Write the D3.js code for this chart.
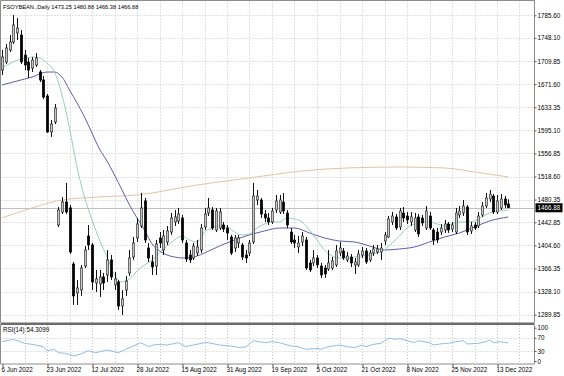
<!DOCTYPE html>
<html>
<head>
<meta charset="utf-8">
<script src="https://cdn.jsdelivr.net/npm/d3@7"></script>
<style>
html, body { margin: 0; padding: 0; background: #fff; }
svg { display: block; }
text { font-family: "Liberation Sans", Arial, sans-serif; font-size: 6.3px; fill: #000; }
</style>
</head>
<body>
<svg id="chart" width="564" height="376"></svg>
<script>
'use strict'

// ---- data ----
const symbol = 'FSOYBEAN.,Daily'
const lastOhlc = [1473.25, 1480.88, 1466.38, 1466.88]
const rsiLabel = 'RSI(14) 54.3099'

const labelBars = [0, 12, 24, 36, 48, 60, 72, 84, 96, 108, 120, 132]
const labelDates = ['6 Jun 2022', '23 Jun 2022', '12 Jul 2022', '28 Jul 2022', '15 Aug 2022', '31 Aug 2022',
  '19 Sep 2022', '5 Oct 2022', '21 Oct 2022', '8 Nov 2022', '25 Nov 2022', '13 Dec 2022']

const priceTicks = [1785.60, 1748.10, 1709.85, 1671.60, 1633.35, 1595.10, 1556.85, 1518.60,
  1480.35, 1442.85, 1404.60, 1366.35, 1328.10, 1289.85]
const rsiTicks = [100, 70, 30, 0]

const opens = [1695.0, 1708.3, 1728.2, 1741.4, 1756.3, 1753.0, 1719.9, 1708.3, 1698.4, 1703.3,
  1691.7, 1678.5, 1652.0, 1592.4, 1609.0, 1438.4, 1459.9, 1476.5, 1466.6, 1373.8,
  1325.9, 1330.8, 1370.5, 1420.2, 1405.3, 1342.4, 1340.7, 1352.3, 1355.6, 1380.5,
  1339.1, 1344.0, 1304.3, 1330.8, 1358.9, 1385.4, 1416.9, 1436.8, 1478.2, 1400.3,
  1377.2, 1370.5, 1416.9, 1397.0, 1410.3, 1426.8, 1443.4, 1445.0, 1450.0, 1408.6,
  1388.7, 1383.8, 1392.1, 1397.0, 1435.1, 1458.3, 1463.2, 1430.1, 1433.4, 1438.4,
  1433.4, 1418.5, 1400.3, 1408.6, 1405.3, 1388.7, 1392.1, 1410.3, 1479.8, 1479.8,
  1456.6, 1450.0, 1443.4, 1463.2, 1459.9, 1476.5, 1458.3, 1426.8, 1413.6, 1402.0,
  1410.3, 1413.6, 1375.5, 1375.5, 1383.8, 1370.5, 1367.2, 1365.6, 1367.2, 1372.2,
  1392.1, 1395.4, 1380.5, 1385.4, 1372.2, 1372.2, 1388.7, 1395.4, 1380.5, 1392.1,
  1393.7, 1393.7, 1411.9, 1418.5, 1443.4, 1451.7, 1435.1, 1458.3, 1453.3, 1443.4,
  1430.1, 1451.7, 1450.0, 1433.4, 1453.3, 1430.1, 1426.8, 1426.8, 1430.1, 1440.1,
  1431.8, 1426.8, 1455.0, 1458.3, 1468.2, 1428.5, 1438.4, 1436.8, 1455.0, 1469.9,
  1481.5, 1486.4, 1459.9, 1466.6, 1481.5, 1473.25]

const highs = [1728.2, 1738.1, 1753.0, 1786.1, 1781.1, 1761.2, 1728.2, 1714.9, 1716.6, 1723.2,
  1695.0, 1685.1, 1655.3, 1612.3, 1638.7, 1468.2, 1484.8, 1508.0, 1471.5, 1377.2,
  1347.4, 1372.2, 1403.6, 1438.4, 1408.6, 1363.9, 1363.9, 1358.9, 1397.0, 1388.7,
  1360.6, 1347.4, 1330.8, 1354.0, 1397.0, 1418.5, 1450.0, 1491.4, 1483.1, 1408.6,
  1388.7, 1413.6, 1426.8, 1430.1, 1436.8, 1458.3, 1463.2, 1466.6, 1455.0, 1413.6,
  1397.0, 1408.6, 1413.6, 1440.1, 1466.6, 1483.1, 1468.2, 1466.6, 1466.6, 1443.4,
  1438.4, 1421.9, 1421.9, 1421.9, 1408.6, 1397.0, 1413.6, 1508.0, 1496.4, 1483.1,
  1463.2, 1458.3, 1466.6, 1488.1, 1488.1, 1491.4, 1463.2, 1433.4, 1421.9, 1420.2,
  1426.8, 1418.5, 1380.5, 1397.0, 1388.7, 1375.5, 1372.2, 1397.0, 1385.4, 1405.3,
  1410.3, 1400.3, 1393.7, 1390.4, 1383.8, 1397.0, 1402.0, 1400.3, 1397.0, 1405.3,
  1405.3, 1408.6, 1426.8, 1453.3, 1459.9, 1456.6, 1466.6, 1468.2, 1459.9, 1459.9,
  1458.3, 1456.6, 1455.0, 1469.9, 1459.9, 1433.4, 1433.4, 1440.1, 1446.7, 1443.4,
  1443.4, 1466.6, 1469.9, 1479.8, 1471.5, 1443.4, 1443.4, 1459.9, 1476.5, 1491.4,
  1496.4, 1489.7, 1488.1, 1489.7, 1486.4, 1480.88]

const lows = [1686.8, 1705.0, 1724.8, 1738.1, 1744.7, 1705.0, 1695.0, 1681.8, 1691.7, 1700.0,
  1675.2, 1647.0, 1590.7, 1584.1, 1605.6, 1435.1, 1456.6, 1456.6, 1390.4, 1306.0,
  1306.0, 1320.9, 1367.2, 1397.0, 1330.8, 1327.5, 1319.2, 1330.8, 1344.0, 1347.4,
  1330.8, 1297.7, 1289.4, 1320.9, 1354.0, 1380.5, 1410.3, 1433.4, 1408.6, 1377.2,
  1355.6, 1355.6, 1400.3, 1388.7, 1405.3, 1421.9, 1436.8, 1440.1, 1408.6, 1377.2,
  1375.5, 1380.5, 1387.1, 1392.1, 1430.1, 1453.3, 1430.1, 1426.8, 1430.1, 1426.8,
  1413.6, 1388.7, 1393.7, 1400.3, 1380.5, 1375.5, 1387.1, 1407.0, 1471.5, 1450.0,
  1443.4, 1438.4, 1440.1, 1458.3, 1456.6, 1456.6, 1433.4, 1407.0, 1400.3, 1392.1,
  1403.6, 1363.9, 1360.6, 1370.5, 1367.2, 1350.7, 1350.7, 1362.3, 1363.9, 1368.9,
  1387.1, 1380.5, 1377.2, 1368.9, 1357.3, 1368.9, 1383.8, 1373.8, 1377.2, 1387.1,
  1390.4, 1380.5, 1405.3, 1416.9, 1438.4, 1430.1, 1430.1, 1443.4, 1440.1, 1436.8,
  1426.8, 1418.5, 1436.8, 1430.1, 1430.1, 1405.3, 1408.6, 1421.9, 1425.2, 1425.2,
  1426.8, 1423.5, 1450.0, 1453.3, 1421.9, 1423.5, 1430.1, 1433.4, 1451.7, 1466.6,
  1476.5, 1456.6, 1456.6, 1463.2, 1466.6, 1466.38]

const closes = [1716.6, 1731.5, 1741.4, 1769.5, 1764.6, 1708.3, 1703.3, 1695.0, 1711.6, 1714.9,
  1678.5, 1650.3, 1592.4, 1605.6, 1632.1, 1463.2, 1476.5, 1459.9, 1393.7, 1320.9,
  1334.1, 1367.2, 1397.0, 1405.3, 1344.0, 1349.0, 1352.3, 1342.4, 1380.5, 1352.3,
  1349.0, 1304.3, 1315.9, 1345.7, 1383.8, 1408.6, 1440.1, 1466.6, 1413.6, 1383.8,
  1368.9, 1407.0, 1408.6, 1420.2, 1428.5, 1450.0, 1451.7, 1456.6, 1413.6, 1382.1,
  1380.5, 1403.6, 1402.0, 1433.4, 1456.6, 1466.6, 1433.4, 1461.6, 1459.9, 1431.8,
  1425.2, 1392.1, 1416.9, 1416.9, 1385.4, 1383.8, 1408.6, 1486.4, 1486.4, 1456.6,
  1450.0, 1443.4, 1461.6, 1478.2, 1479.8, 1461.6, 1438.4, 1410.3, 1408.6, 1408.6,
  1420.2, 1367.2, 1363.9, 1383.8, 1372.2, 1355.6, 1357.3, 1375.5, 1378.8, 1395.4,
  1400.3, 1383.8, 1387.1, 1375.5, 1377.2, 1390.4, 1395.4, 1377.2, 1392.1, 1398.7,
  1398.7, 1400.3, 1421.9, 1448.3, 1453.3, 1433.4, 1461.6, 1450.0, 1446.7, 1451.7,
  1450.0, 1423.5, 1441.7, 1461.6, 1433.4, 1413.6, 1413.6, 1433.4, 1440.1, 1430.1,
  1438.4, 1458.3, 1461.6, 1469.9, 1426.8, 1436.8, 1433.4, 1453.3, 1469.9, 1483.1,
  1489.7, 1459.9, 1478.2, 1481.5, 1471.5, 1466.88]

// moving averages, sampled at these bar indices
const fastMaBars = [0, 3, 6, 9, 12, 14, 16, 18, 20, 22, 24, 26, 28, 30, 32, 34, 36, 38, 40, 42,
  44, 46, 48, 50, 52, 54, 56, 58, 60, 62, 64, 66, 68, 70, 72, 74, 76, 78, 80, 82,
  84, 86, 88, 90, 92, 94, 96, 98, 100, 102, 104, 106, 108, 110, 112, 114, 116, 118, 120, 122,
  124, 126, 128, 130, 132, 135]
const fastMaValues = [1698.4, 1708.3, 1714.9, 1716.6, 1706.6, 1691.7, 1653.6, 1599.0, 1534.4, 1484.8,
  1446.7, 1413.6, 1385.4, 1355.6, 1344.0, 1349.0, 1362.3, 1372.2, 1380.5, 1392.1,
  1403.6, 1413.6, 1420.2, 1413.6, 1410.3, 1426.8, 1433.4, 1436.8, 1435.1, 1426.8,
  1421.9, 1423.5, 1433.4, 1440.1, 1443.4, 1443.4, 1450.0, 1448.3, 1443.4, 1430.1,
  1413.6, 1397.0, 1387.1, 1383.8, 1383.8, 1385.4, 1387.1, 1388.7, 1392.1, 1397.0,
  1408.6, 1420.2, 1433.4, 1440.1, 1443.4, 1443.4, 1440.1, 1436.8, 1440.1, 1443.4,
  1443.4, 1445.0, 1451.7, 1458.3, 1461.6, 1463.0]

const midMaBars = [0, 4, 8, 12, 14, 16, 18, 20, 22, 24, 26, 28, 30, 32, 34, 36, 38, 40, 42, 44,
  46, 48, 50, 52, 54, 58, 62, 66, 70, 74, 78, 82, 86, 90, 94, 98, 102, 106, 110, 114,
  118, 122, 126, 130, 135]
const midMaValues = [1670.2, 1676.8, 1683.4, 1691.7, 1691.7, 1683.4, 1661.9, 1640.4, 1617.2, 1590.7,
  1564.2, 1544.4, 1521.2, 1496.4, 1471.5, 1450.0, 1430.1, 1407.0, 1395.4, 1388.7,
  1385.4, 1383.8, 1383.8, 1387.1, 1392.1, 1403.6, 1413.6, 1421.9, 1428.5, 1433.4,
  1433.4, 1425.2, 1416.9, 1411.9, 1410.3, 1403.6, 1397.0, 1398.7, 1402.0, 1410.3,
  1418.5, 1425.2, 1435.1, 1445.0, 1451.7]

const slowMaBars = [0, 8, 16, 26, 36, 52, 66, 80, 92, 106, 118, 126, 135]
const slowMaValues = [1450.0, 1466.6, 1479.8, 1484.8, 1488.1, 1504.6, 1516.3, 1527.8, 1532.8, 1534.4,
  1532.8, 1526.2, 1517.9]

const rsiBars = [0, 3, 6, 8, 11, 12, 14, 15, 17, 19, 21, 23, 25, 28, 30, 31, 33, 37, 39, 41,
  44, 47, 49, 51, 54, 55, 58, 61, 63, 65, 67, 70, 72, 74, 77, 79, 81, 84, 85, 87,
  90, 92, 94, 96, 97, 99, 101, 103, 105, 106, 108, 110, 111, 114, 115, 118, 119, 121, 123, 124,
  127, 129, 130, 131, 133, 134, 135]
const rsiValues = [58, 65, 53, 50, 43, 31, 35, 25, 23, 15, 21, 31, 25, 33, 28, 25, 35, 55, 43, 50,
  48, 55, 43, 48, 55, 55, 48, 45, 41, 42, 61, 55, 58, 55, 45, 43, 35, 38, 35, 43,
  48, 43, 40, 48, 43, 50, 53, 68, 65, 68, 61, 55, 61, 55, 48, 53, 53, 58, 61, 51,
  53, 58, 63, 55, 58, 56, 54.3]

// ---- layout ----
const plotLeft = 0.5, plotRight = 534.5
const mainTop = 0.5, mainBottom = 322.5
const rsiTop = 325, rsiBottom = 364

const svg = d3.select('#chart')

const x = d3.scaleLinear().domain([0, 135]).range([2, 508.25])
const y = d3.scaleLinear().domain([1289.85, 1785.60]).range([314.7, 15.3])
const yr = d3.scaleLinear().domain([0, 100]).range([361, 327.7])

svg.append('rect').attr('width', 564).attr('height', 376).attr('fill', '#fff')

const defs = svg.append('defs')
defs.append('clipPath').attr('id', 'clipMain')
  .append('rect').attr('x', plotLeft).attr('y', mainTop)
  .attr('width', plotRight - plotLeft).attr('height', mainBottom - mainTop)
defs.append('clipPath').attr('id', 'clipRsi')
  .append('rect').attr('x', plotLeft).attr('y', rsiTop)
  .attr('width', plotRight - plotLeft).attr('height', rsiBottom - rsiTop)

// grid
const gridColor = '#c4c4c4'
const gridBars = d3.range(6, 139, 6)
const grid = svg.append('g').attr('stroke', gridColor).attr('stroke-width', 1).attr('stroke-dasharray', '1,2')

grid.selectAll('.vmain').data(gridBars).join('line')
  .attr('x1', d => Math.round(x(d)) + 0.5).attr('x2', d => Math.round(x(d)) + 0.5)
  .attr('y1', mainTop).attr('y2', mainBottom)
grid.selectAll('.vrsi').data(gridBars).join('line')
  .attr('x1', d => Math.round(x(d)) + 0.5).attr('x2', d => Math.round(x(d)) + 0.5)
  .attr('y1', rsiTop).attr('y2', rsiBottom)
grid.selectAll('.hmain').data(priceTicks).join('line')
  .attr('x1', plotLeft).attr('x2', plotRight)
  .attr('y1', d => Math.round(y(d)) + 0.5).attr('y2', d => Math.round(y(d)) + 0.5)
grid.selectAll('.hrsi').data([70, 30]).join('line')
  .attr('x1', plotLeft).attr('x2', plotRight)
  .attr('y1', d => Math.round(yr(d)) + 0.5).attr('y2', d => Math.round(yr(d)) + 0.5)

// main panel content
const main = svg.append('g').attr('clip-path', 'url(#clipMain)')

// bid line
main.append('line')
  .attr('x1', plotLeft).attr('x2', plotRight)
  .attr('y1', Math.round(y(lastOhlc[3])) + 0.5).attr('y2', Math.round(y(lastOhlc[3])) + 0.5)
  .attr('stroke', '#c0c0c0')

const maLine = (bars, values) => d3.line()
  .x((d, k) => x(bars[k]))
  .y(d => y(d))
  .curve(d3.curveMonotoneX)(values)

main.append('path').attr('d', maLine(slowMaBars, slowMaValues))
  .attr('fill', 'none').attr('stroke', '#e4c2a2').attr('stroke-width', 1)
main.append('path').attr('d', maLine(midMaBars, midMaValues))
  .attr('fill', 'none').attr('stroke', '#5e5ea8').attr('stroke-width', 1)
main.append('path').attr('d', maLine(fastMaBars, fastMaValues))
  .attr('fill', 'none').attr('stroke', '#92d2b2').attr('stroke-width', 1)

const bars = closes.map((c, i) => ({ i, o: opens[i], h: highs[i], l: lows[i], c }))

const candle = main.selectAll('.candle').data(bars).join('g').attr('class', 'candle')
candle.append('line')
  .attr('x1', d => Math.round(x(d.i)) + 0.5).attr('x2', d => Math.round(x(d.i)) + 0.5)
  .attr('y1', d => y(d.h)).attr('y2', d => y(d.l))
  .attr('stroke', '#111').attr('stroke-width', 1)
candle.append('rect')
  .attr('x', d => Math.round(x(d.i)) - 0.7)
  .attr('width', 2.4)
  .attr('y', d => y(Math.max(d.o, d.c)))
  .attr('height', d => Math.max(0.8, Math.abs(y(d.o) - y(d.c))))
  .attr('fill', d => d.c >= d.o ? '#c6c6c6' : '#000')
  .attr('stroke', d => d.c >= d.o ? '#222' : '#000')
  .attr('stroke-width', 0.6)

// rsi panel content
svg.append('g').attr('clip-path', 'url(#clipRsi)')
  .append('path')
  .attr('d', d3.line().x((d, k) => x(rsiBars[k])).y(d => yr(d))(rsiValues))
  .attr('fill', 'none').attr('stroke', '#8ebce6').attr('stroke-width', 1)

// frames
const frame = svg.append('g').attr('fill', 'none')
frame.append('path')
  .attr('d', `M${plotLeft},${mainBottom}V${mainTop}H${plotRight}V${mainBottom}`)
  .attr('stroke', '#8c8c8c')
frame.append('rect').attr('x', plotLeft).attr('y', mainBottom).attr('width', plotRight - plotLeft)
  .attr('height', 2.5).attr('fill', '#6c6c6c')
frame.append('path')
  .attr('d', `M${plotLeft},${rsiTop}V${rsiBottom}H${plotRight}V${rsiTop}`)
  .attr('stroke', '#8c8c8c')

// axes
const priceAxis = svg.append('g').attr('transform', `translate(${plotRight},0)`)
  .call(d3.axisRight(y).tickValues(priceTicks).tickFormat(d3.format('.2f')).tickSize(2).tickPadding(1))
const rsiAxis = svg.append('g').attr('transform', `translate(${plotRight},0)`)
  .call(d3.axisRight(yr).tickValues(rsiTicks).tickSize(2).tickPadding(1))
const dateAxis = svg.append('g').attr('transform', `translate(0,${rsiBottom})`)
  .call(d3.axisBottom(x).tickValues(labelBars).tickFormat((d, k) => labelDates[k]).tickSize(3).tickPadding(1))

for (const ax of [priceAxis, rsiAxis, dateAxis]) {
  ax.select('.domain').remove()
  ax.attr('font-family', null).attr('font-size', null)
  ax.selectAll('line').attr('stroke', '#555')
  ax.selectAll('text').attr('fill', '#000')
}
dateAxis.selectAll('text').attr('text-anchor', 'start').attr('x', -1)
dateAxis.selectAll('.tick line').attr('transform', 'translate(0.5,0)')

// current price tag
const tagY = y(lastOhlc[3])
svg.append('rect').attr('x', plotRight + 1).attr('y', tagY - 4.5)
  .attr('width', 27).attr('height', 9).attr('fill', '#000')
svg.append('text').attr('x', plotRight + 3).attr('y', tagY + 2.3)
  .style('fill', '#fff').text(d3.format('.2f')(lastOhlc[3]))

// headers
svg.append('text').attr('x', 3).attr('y', 8.5)
  .style('font-size', '5.7px')
  .text(`${symbol}  ${lastOhlc.map(d3.format('.2f')).join(' ')}`)
svg.append('text').attr('x', 3).attr('y', 331.5).text(rsiLabel)
</script>
</body>
</html>
